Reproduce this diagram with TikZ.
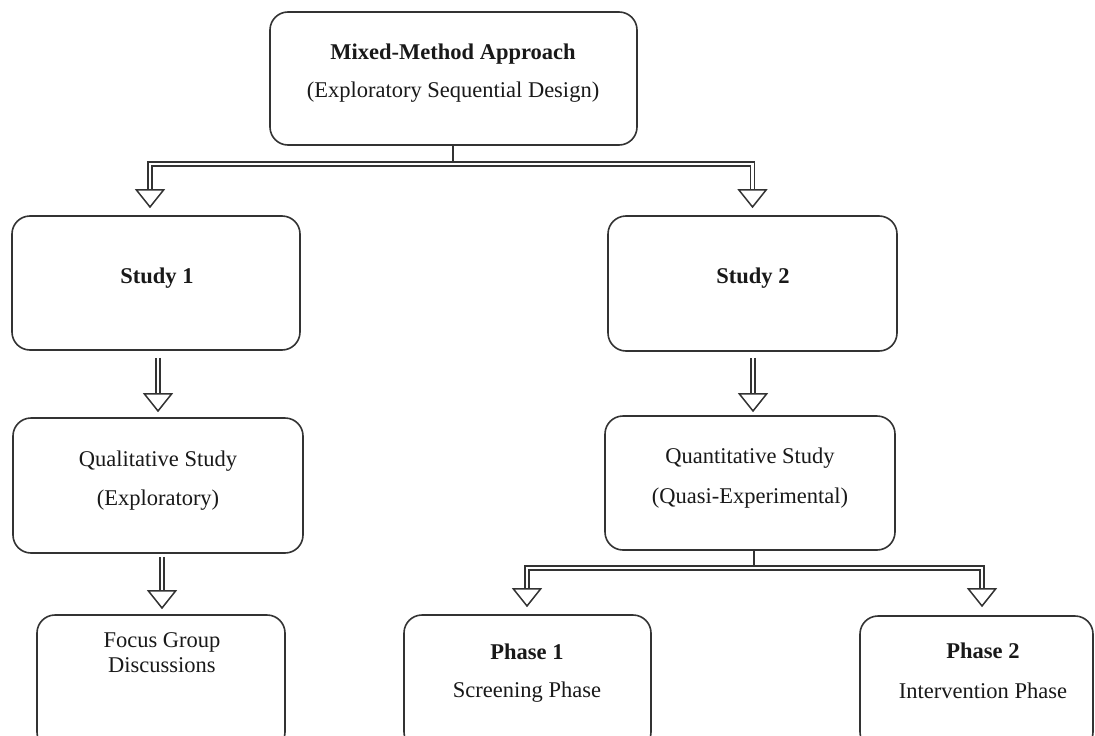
\documentclass[tikz,border=0pt]{standalone}
\usepackage{fontspec}
\setmainfont{Liberation Serif}
\usetikzlibrary{arrows.meta}
\begin{document}
\begin{tikzpicture}[x=1pt,y=-1pt,
  box/.style={draw=black!80, line width=1.6pt, rounded corners=18pt, fill=white, inner sep=0pt},
  txt/.style={anchor=base, inner sep=0pt, font=\fontsize{22.5}{25}\selectfont, text=black!90},
  btxt/.style={txt, font=\fontsize{22.5}{25}\selectfont\bfseries},
  dbl/.style={draw=black!80, line width=1.7pt, double=white, double distance=2.4pt},
  hd/.style={-{Triangle[fill=white, width=30pt, length=19pt, line width=1.5pt]}},
  stub/.style={draw=black!80, line width=1.6pt}]
\useasboundingbox (0,0) rectangle (1095,736);
% boxes
\node[box, minimum width=367pt, minimum height=133pt] (top) at (453.5,78.5) {};
\node[box, minimum width=288pt, minimum height=134pt] (s1) at (156,283) {};
\node[box, minimum width=289pt, minimum height=135pt] (s2) at (752.5,283.5) {};
\node[box, minimum width=290pt, minimum height=135pt] (qual) at (158,485.5) {};
\node[box, minimum width=290pt, minimum height=134pt] (quant) at (750,483) {};
\node[box, minimum width=248pt, minimum height=135pt] (focus) at (161,682.5) {};
\node[box, minimum width=247pt, minimum height=135pt] (ph1) at (527.5,682.5) {};
\node[box, minimum width=233pt, minimum height=134pt] (ph2) at (976.5,683) {};
% texts
\node[btxt] (topa) at (453,59) {Mixed-Method Approach};
\node[txt] (topb) at (453,97) {(Exploratory Sequential Design)};
\node[btxt] (s1a) at (157,283) {Study 1};
\node[btxt] (s2a) at (753,283) {Study 2};
\node[txt] (quala) at (158,466) {Qualitative Study};
\node[txt] (qualb) at (158,505) {(Exploratory)};
\node[txt] (quanta) at (750,463) {Quantitative Study};
\node[txt] (quantb) at (750,503) {(Quasi-Experimental)};
\node[txt] (foca) at (162,647) {Focus Group};
\node[txt] (focb) at (162,672) {Discussions};
\node[btxt] (ph1a) at (527,659) {Phase 1};
\node[txt] (ph1b) at (527,697) {Screening Phase};
\node[btxt] (ph2a) at (983,658) {Phase 2};
\node[txt] (ph2b) at (983,698) {Intervention Phase};
% junctions
\coordinate (j1) at (453,164);
\coordinate (j2) at (754,568);
% top branch
\draw[dbl, hd] (j1) -| ([xshift=-6pt, yshift=7pt]s1.north);
\draw[dbl, hd] (j1) -| ([yshift=7pt]s2.north);
\draw[stub] (top.south -| j1) -- ([yshift=2pt]j1);
% study arrows
\draw[dbl, hd] ([xshift=2pt, yshift=-7pt]s1.south) -- ([yshift=5pt]qual.north);
\draw[dbl, hd] ([xshift=4pt, yshift=-3pt]qual.south) -- ([xshift=1pt, yshift=5pt]focus.north);
\draw[dbl, hd] ([xshift=0.5pt, yshift=-6pt]s2.south) -- ([xshift=3pt, yshift=3pt]quant.north);
% lower branch
\draw[dbl, hd] (j2) -| ([xshift=-0.5pt, yshift=7pt]ph1.north);
\draw[dbl, hd] (j2) -| ([xshift=5.5pt, yshift=8pt]ph2.north);
\draw[stub] (quant.south -| j2) -- ([yshift=2pt]j2);
\end{tikzpicture}
\end{document}
